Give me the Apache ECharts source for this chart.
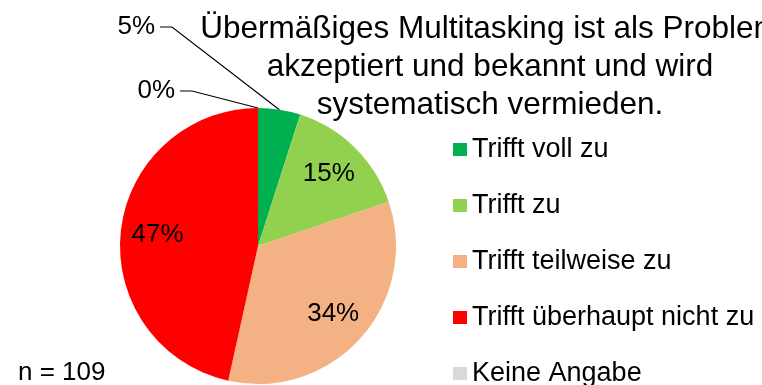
<!DOCTYPE html>
<html>
<head>
<meta charset="utf-8">
<script src="https://cdn.jsdelivr.net/npm/echarts@6/dist/echarts.min.js"></script>
<style>
  html, body { margin: 0; padding: 0; background: #ffffff; }
  #chart { width: 762px; height: 385px; }
</style>
</head>
<body>
<div id="chart"></div>
<script>
// Answer categories, share of respondents in percent, slice colours
const categories = ['Trifft voll zu', 'Trifft zu', 'Trifft teilweise zu', 'Trifft überhaupt nicht zu', 'Keine Angabe'];
const percentages = [5, 15, 34, 47, 0];
const sliceColors = ['#00B050', '#92D050', '#F4B183', '#FF0000', '#D9D9D9'];
const titleLines = ['Übermäßiges Multitasking ist als Problem', 'akzeptiert und bekannt und wird', 'systematisch vermieden.'];
const sampleNote = 'n = 109';

// Small slices get their label outside, to the upper left, with a leader line.
// Value: where the label text ends (right edge, vertical middle).
const outerLabelAnchors = { 0: [155, 27], 4: [175, 91] };

const FONT = "'Liberation Sans', Arial, Helvetica, sans-serif";
const PIE_CENTER = [258, 246];
const PIE_RADIUS = 138;

const chart = echarts.init(document.getElementById('chart'), null, { renderer: 'canvas' });

const isOuter = i => Object.prototype.hasOwnProperty.call(outerLabelAnchors, i);

chart.setOption({
  animation: false,
  backgroundColor: '#ffffff',
  title: [
    {
      text: titleLines.join('\n'),
      left: 490,
      top: 10,
      padding: 0,
      textAlign: 'center',
      textStyle: { fontFamily: FONT, fontSize: 31.5, fontWeight: 'normal', color: '#000', lineHeight: 38 }
    },
    {
      text: sampleNote,
      left: 18,
      top: 360,
      padding: 0,
      textStyle: { fontFamily: FONT, fontSize: 26, fontWeight: 'normal', color: '#000' }
    }
  ],
  legend: {
    orient: 'vertical',
    left: 453,
    top: 136,
    height: 600,
    padding: 0,
    itemWidth: 14,
    itemHeight: 13,
    itemGap: 29,
    icon: 'rect',
    selectedMode: false,
    data: categories,
    textStyle: { fontFamily: FONT, fontSize: 27, color: '#000' }
  },
  series: [
    {
      // the slices, plus outside labels for the small ones
      type: 'pie',
      center: PIE_CENTER,
      radius: PIE_RADIUS,
      startAngle: 90,
      clockwise: true,
      avoidLabelOverlap: false,
      stillShowZeroSum: true,
      emphasis: { disabled: true },
      data: categories.map((name, i) => ({
        name,
        value: percentages[i],
        itemStyle: { color: sliceColors[i] },
        label: { show: isOuter(i) },
        labelLine: { show: isOuter(i) }
      })),
      label: {
        position: 'outside',
        formatter: p => p.value + '%',
        fontFamily: FONT,
        fontSize: 26,
        color: '#000'
      },
      labelLine: { lineStyle: { color: '#000', width: 1.2 } },
      labelLayout: function (p) {
        const a = outerLabelAnchors[p.dataIndex];
        if (!a || !p.labelLinePoints) return;
        const edge = p.labelLinePoints[0];
        return {
          x: a[0],
          y: a[1],
          align: 'right',
          verticalAlign: 'middle',
          labelLinePoints: [edge, [a[0] + 17, a[1]], [a[0] + 5, a[1]]]
        };
      }
    },
    {
      // transparent ring that carries the in-slice labels a bit further out than half radius
      type: 'pie',
      center: PIE_CENTER,
      radius: [58, PIE_RADIUS],
      startAngle: 90,
      clockwise: true,
      silent: true,
      avoidLabelOverlap: false,
      emphasis: { disabled: true },
      data: categories.map((name, i) => ({
        name,
        value: percentages[i],
        itemStyle: { color: 'rgba(0,0,0,0)' },
        label: { show: !isOuter(i) }
      })),
      label: {
        position: 'inside',
        formatter: p => p.value + '%',
        fontFamily: FONT,
        fontSize: 26,
        color: '#000'
      },
      labelLine: { show: false }
    }
  ]
});
</script>
</body>
</html>
